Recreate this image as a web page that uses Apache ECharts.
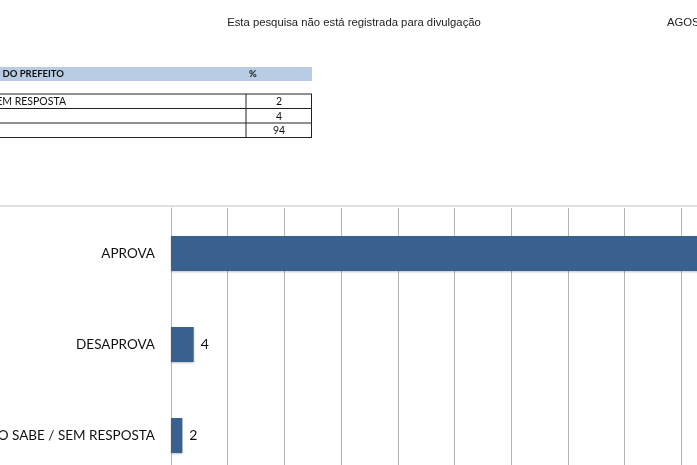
<!DOCTYPE html>
<html>
<head>
<meta charset="utf-8">
<script src="https://cdn.jsdelivr.net/npm/echarts@6/dist/echarts.min.js"></script>
<style>
html,body{margin:0;padding:0;background:#fff;}
#c{width:697px;height:465px;}
</style>
</head>
<body>
<div id="c"></div>
<script>
// Data
var categories = ['NÃO SABE / SEM RESPOSTA', 'DESAPROVA', 'APROVA'];
var values = [2, 4, 94];
var tableRowLabels = ['NÃO SABE / SEM RESPOSTA', 'DESAPROVA', 'APROVA'];
var headerText = 'AVALIAÇÃO DO PREFEITO';
var noteText = 'Esta pesquisa não está registrada para divulgação';
var dateText = 'AGOSTO';

var chart = echarts.init(document.getElementById('c'), null, {renderer: 'canvas'});

var cal = 'Lato, "Open Sans", sans-serif';
var graphics = [];
// top note
graphics.push({type: 'text', x: 354, y: 23, style: {text: noteText, font: '11.3px "Liberation Sans", Arial', fill: '#222', align: 'center', verticalAlign: 'middle'}});
graphics.push({type: 'text', x: 667, y: 23, style: {text: dateText, font: '11.3px "Liberation Sans", Arial', fill: '#222', align: 'left', verticalAlign: 'middle'}});
// table header band
graphics.push({type: 'rect', shape: {x: 0, y: 67, width: 312, height: 14}, style: {fill: '#b8cce4'}});
graphics.push({type: 'text', x: 64, y: 74, style: {text: headerText, font: 'bold 9.5px ' + cal, fill: '#111', align: 'right', verticalAlign: 'middle'}});
graphics.push({type: 'text', x: 249, y: 74, style: {text: '%', font: 'bold 9.5px ' + cal, fill: '#111', align: 'left', verticalAlign: 'middle'}});
// table rows
var rowY = [94, 108.5, 123, 137.5];
for (var i = 0; i < rowY.length; i++) {
  graphics.push({type: 'line', shape: {x1: 0, y1: rowY[i], x2: 312, y2: rowY[i]}, style: {stroke: '#222', lineWidth: 1}});
}
graphics.push({type: 'line', shape: {x1: 246, y1: 94, x2: 246, y2: 137.5}, style: {stroke: '#222', lineWidth: 1}});
graphics.push({type: 'line', shape: {x1: 311.5, y1: 94, x2: 311.5, y2: 137.5}, style: {stroke: '#222', lineWidth: 1}});
for (var r = 0; r < values.length; r++) {
  var cy = (rowY[r] + rowY[r + 1]) / 2 + 0.5;
  graphics.push({type: 'text', x: 279, y: cy, style: {text: String(values[r]), font: '10.5px ' + cal, fill: '#111', align: 'center', verticalAlign: 'middle'}});
  if (r === 0) {
    graphics.push({type: 'text', x: 66, y: cy, style: {text: tableRowLabels[r], font: '10.5px ' + cal, fill: '#111', align: 'right', verticalAlign: 'middle'}});
  }
}
// chart area top border
graphics.push({type: 'line', shape: {x1: 0, y1: 206, x2: 697, y2: 206}, style: {stroke: '#c0c0c0', lineWidth: 1}});

chart.setOption({
  animation: false,
  backgroundColor: '#ffffff',
  graphic: graphics,
  grid: {left: 171, top: 208, width: 567, height: 273, containLabel: false, outerBoundsMode: 'none'},
  xAxis: {
    type: 'value', min: 0, max: 100, interval: 10,
    axisLabel: {show: false}, axisTick: {show: false}, axisLine: {show: false},
    splitLine: {show: true, lineStyle: {color: '#b3b3b3', width: 1}}
  },
  yAxis: {
    type: 'category', data: categories,
    axisTick: {show: false},
    axisLine: {show: true, lineStyle: {color: '#b3b3b3', width: 1}},
    axisLabel: {margin: 16, fontFamily: cal, fontSize: 13.5, color: '#111'}
  },
  series: [{
    type: 'bar', data: values, barWidth: 35,
    itemStyle: {color: '#386190', shadowColor: 'rgba(0,0,0,0.25)', shadowBlur: 2, shadowOffsetY: 1},
    label: {show: true, position: 'right', distance: 7, fontFamily: cal, fontSize: 14, color: '#111'}
  }]
});
</script>
</body>
</html>
